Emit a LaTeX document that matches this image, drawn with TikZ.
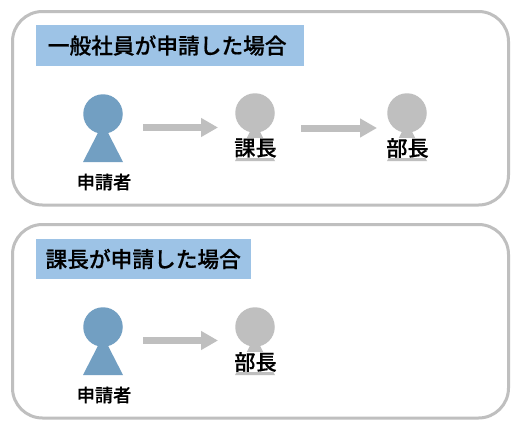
\documentclass[tikz,border=0pt]{standalone}
\usepackage{fontspec}
\setmainfont{Noto Sans CJK JP Medium}[FakeBold=0.5]
\usetikzlibrary{arrows.meta,positioning}
\definecolor{framegray}{HTML}{BFBFBF}
\definecolor{titleblue}{HTML}{9DC3E6}
\definecolor{personblue}{HTML}{729FC2}
\tikzset{
  x=1pt,y=-1pt,
  panel/.style={draw=framegray,line width=3pt,rounded corners=30pt,fill=white},
  titlebox/.style={fill=titleblue,anchor=west,minimum height=41pt,inner sep=0pt,font=\fontsize{21.7}{22}\selectfont,text=black},
  head/.style={circle,inner sep=0pt,minimum size=39.5pt,fill=#1},
  body/.style={fill=#1},
  role/.style={font=\fontsize{21.2}{22}\selectfont,text=black,inner sep=0pt,fill=white},
  applicant/.style={font=\fontsize{18.2}{19}\selectfont,text=black,inner sep=0pt},
  flow/.style={draw=framegray,line width=7pt,-{Triangle[length=17pt,width=18pt]}},
}
\newcommand{\person}[4]{%
  \node[head=#4] (#1) at (#2,#3) {};
  \fill[body=#4] (#2,#3+9) -- (#2+20,#3+48) -- (#2-20,#3+48) -- cycle;
}
\begin{document}
\begin{tikzpicture}
\useasboundingbox (0,0) rectangle (520,429);
\fill[white] (0,0) rectangle (520,429);
\draw[panel] (12.5,11.5) rectangle (508.5,205);
\draw[panel] (12.5,224.5) rectangle (508.5,418);
\node[titlebox,minimum width=268pt] (t1) at (36,45.5) {一般社員が申請した場合\kern6pt};
\node[titlebox,minimum width=215pt,minimum height=40pt] (t2) at (36,259) {課長が申請した場合\kern1pt};
\person{a1}{103}{114}{personblue}
\person{b1}{255}{113}{framegray}
\person{c1}{407}{113}{framegray}
\person{a2}{103}{327}{personblue}
\person{b2}{255}{327}{framegray}
\node[applicant] (la1) at (104,182) {申請者};
\node[role] (lb1) at (255.5,148) {課長};
\node[role] (lc1) at (407.5,148) {部長};
\node[applicant] (la2) at (104,395) {申請者};
\node[role] (lb2) at (255.5,362) {部長};
\coordinate (f1s) at (143,127.5);
\coordinate (f1e) at (218,127.5);
\coordinate (f2s) at (301,128);
\coordinate (f2e) at (377,128);
\coordinate (f3s) at (143,340.5);
\coordinate (f3e) at (218,340.5);
\draw[flow] (f1s) -- (f1e);
\draw[flow] (f2s) -- (f2e);
\draw[flow] (f3s) -- (f3e);
\end{tikzpicture}
\end{document}
